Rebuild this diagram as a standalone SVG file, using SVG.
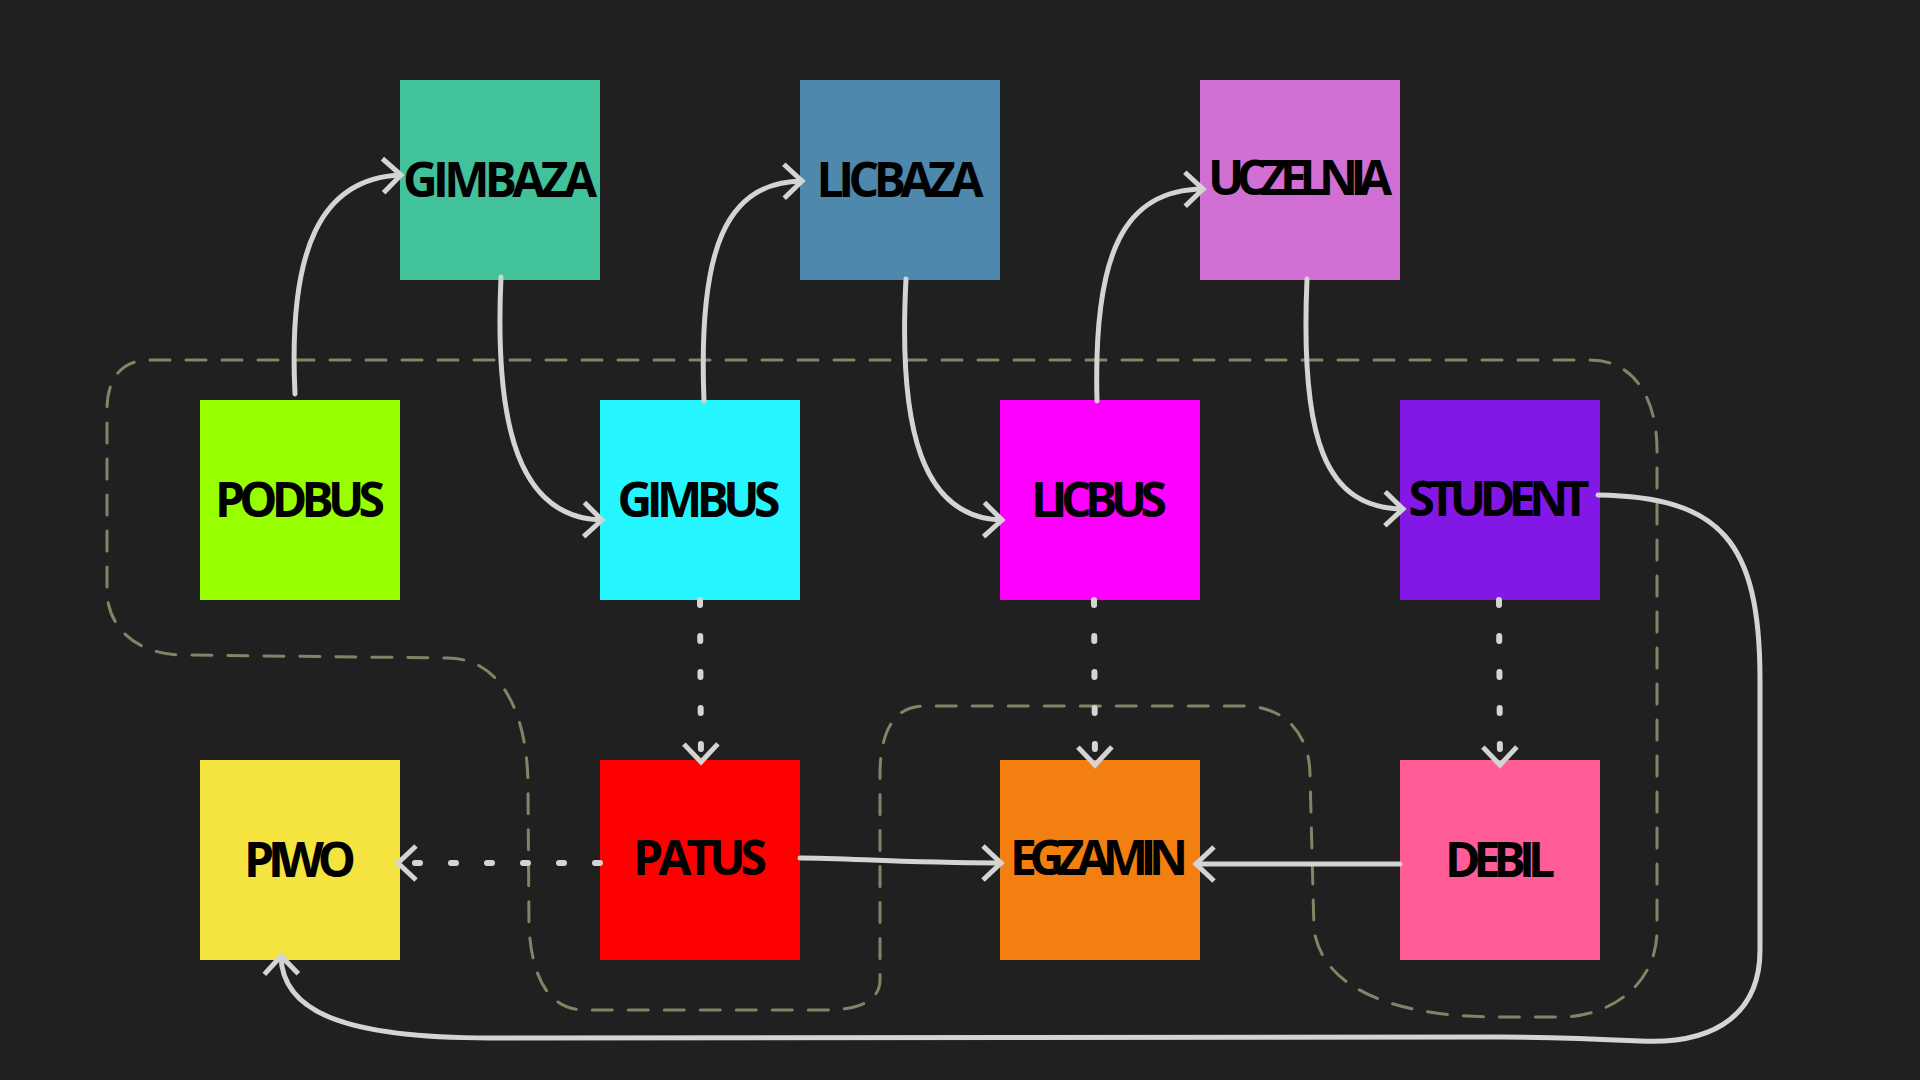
<svg xmlns="http://www.w3.org/2000/svg" width="1920" height="1080" viewBox="0 0 1920 1080">
<style>
.bg{fill:#202020}
.node text{font-family:"Open Sans","Liberation Sans",sans-serif;font-weight:700;font-size:48px;fill:#000;text-anchor:middle}
.solid{fill:none;stroke:#d4d4d4;stroke-width:5;stroke-linecap:round;marker-end:url(#arr)}
.dot{fill:none;stroke:#d4d4d4;stroke-width:6;stroke-linecap:round;stroke-dasharray:5 31;marker-end:url(#arr)}
.group{fill:none;stroke:#838466;stroke-width:3;stroke-dasharray:20 16;stroke-linecap:round}
</style>
<defs>
<marker id="arr" markerUnits="userSpaceOnUse" orient="auto" refX="0" refY="0" markerWidth="40" markerHeight="40" viewBox="-25 -20 30 40" overflow="visible">
<path d="M -18 -17 L 0 0 L -18 17" fill="none" stroke="#d4d4d4" stroke-width="5" stroke-dasharray="none"/>
</marker>
</defs>
<rect class="bg" x="0" y="0" width="1920" height="1080"/>

<g id="nodes">
<g id="PODBUS" class="node"><rect x="200" y="400" width="200" height="200" fill="#97ff00"/><text x="300" y="517" textLength="170" lengthAdjust="spacing">PODBUS</text></g>
<g id="GIMBAZA" class="node"><rect x="400" y="80" width="200" height="200" fill="#41c29b"/><text x="500" y="197" textLength="194" lengthAdjust="spacing">GIMBAZA</text></g>
<g id="GIMBUS" class="node"><rect x="600" y="400" width="200" height="200" fill="#24f5ff"/><text x="699" y="517" textLength="163" lengthAdjust="spacing">GIMBUS</text></g>
<g id="LICBAZA" class="node"><rect x="800" y="80" width="200" height="200" fill="#4f88ad"/><text x="900" y="197" textLength="167" lengthAdjust="spacing">LICBAZA</text></g>
<g id="LICBUS" class="node"><rect x="1000" y="400" width="200" height="200" fill="#ff00ff"/><text x="1099" y="517" textLength="136" lengthAdjust="spacing">LICBUS</text></g>
<g id="UCZELNIA" class="node"><rect x="1200" y="80" width="200" height="200" fill="#d26fd4"/><text x="1300" y="195" textLength="184" lengthAdjust="spacing">UCZELNIA</text></g>
<g id="STUDENT" class="node"><rect x="1400" y="400" width="200" height="200" fill="#8317e6"/><text x="1499" y="516" textLength="181" lengthAdjust="spacing">STUDENT</text></g>
<g id="PIWO" class="node"><rect x="200" y="760" width="200" height="200" fill="#f5e33f"/><text x="300" y="877" textLength="112" lengthAdjust="spacing">PIWO</text></g>
<g id="PATUS" class="node"><rect x="600" y="760" width="200" height="200" fill="#ff0000"/><text x="700" y="875" textLength="134" lengthAdjust="spacing">PATUS</text></g>
<g id="EGZAMIN" class="node"><rect x="1000" y="760" width="200" height="200" fill="#f27f10"/><text x="1099" y="875" textLength="178" lengthAdjust="spacing">EGZAMIN</text></g>
<g id="DEBIL" class="node"><rect x="1400" y="760" width="200" height="200" fill="#ff5c98"/><text x="1500" y="877" textLength="110" lengthAdjust="spacing">DEBIL</text></g>
</g>

<g id="groups">
<path class="group" d="M 150 360 L 1590 360 C 1635 360 1657 400 1657 450 L 1657 930 C 1657 985 1610 1017 1560 1017 L 1498 1017 C 1420 1017 1325 1000 1314 930 L 1310 775 C 1310 740 1290 707 1245 706 L 924 706 C 895 706 880 730 880 775 L 880 980 C 880 1000 860 1010 826 1010 L 585 1010 C 550 1010 532 980 529 927 L 528 787 C 528 720 505 658 447 658 L 183 655 C 140 655 107 630 107 590 L 107 410 C 107 380 120 360 150 360 Z"/>
</g>

<g id="connectors">
<path class="solid" d="M 295 394 C 288 250 320 178 401 175"/>
<path class="solid" d="M 501 277 C 494 430 520 518 602 520"/>
<path class="solid" d="M 704 401 C 698 250 725 182 802 181"/>
<path class="solid" d="M 906 279 C 898 430 922 518 1002 520"/>
<path class="solid" d="M 1097 401 C 1093 250 1125 190 1203 189"/>
<path class="solid" d="M 1307 279 C 1300 440 1325 508 1403 509"/>
<path class="solid" d="M 1598 495 C 1720 497 1760 540 1760 680 L 1760 950 C 1760 1010 1720 1045 1640 1041 C 1600 1039 1560 1037 1500 1037 L 490 1038 C 340 1038 282 1010 281 956"/>
<path class="solid" d="M 800 858 C 850 858 900 863 1001 863"/>
<path class="solid" d="M 1400 864 L 1196 864"/>
<path class="dot" d="M 700 600 L 701 762"/>
<path class="dot" d="M 1094 600 L 1095 765"/>
<path class="dot" d="M 1499 600 L 1500 765"/>
<path class="dot" d="M 600 863 L 398 863"/>
</g>
</svg>
